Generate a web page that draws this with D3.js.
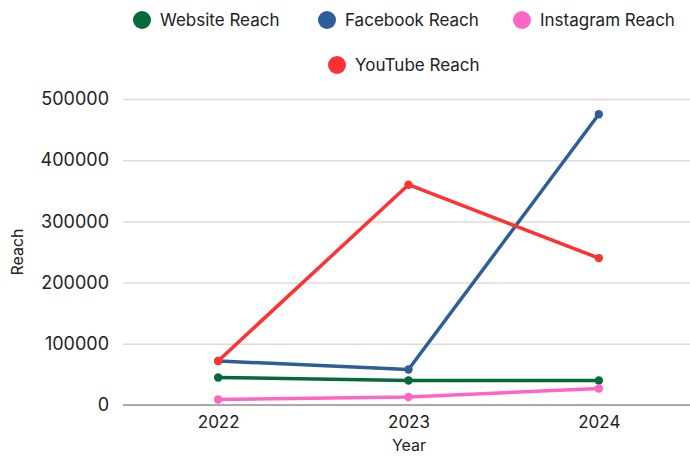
<!DOCTYPE html>
<html><head><meta charset="utf-8">
<script src="https://cdn.jsdelivr.net/npm/d3@7"></script>
<style>body{margin:0;background:#fff}svg{display:block}text{font-family:Inter,"DejaVu Sans",sans-serif;fill:#222}</style>
</head><body><svg width="690" height="456"></svg>
<script>
const years = ["2022","2023","2024"];
const websiteReach = [45000, 40000, 40000];
const facebookReach = [72000, 58000, 475000];
const instagramReach = [9000, 13000, 27000];
const youtubeReach = [72000, 360000, 240000];
const seriesNames = ["Website Reach","Facebook Reach","Instagram Reach","YouTube Reach"];
const seriesColors = ["#046a38","#2e5e99","#ff66c4","#ff3131"];
const yTicks = [0,100000,200000,300000,400000,500000];

const series = [websiteReach, facebookReach, instagramReach, youtubeReach]
  .map((v,i)=>({name:seriesNames[i], color:seriesColors[i], values:v}));

const svg = d3.select("svg");
const x = d3.scalePoint().domain(years).range([123,694]).padding(0.5);
const y = d3.scaleLinear().domain([0,500000]).range([405,99]);

// grid + y axis
const ya = svg.append("g").attr("transform","translate(123,0)")
  .call(d3.axisLeft(y).tickValues(yTicks).tickSize(-567).tickPadding(14).tickFormat(d3.format("d")));
ya.select(".domain").remove();
ya.selectAll(".tick line").attr("stroke","#dcdcdc").attr("stroke-width",1.5);
ya.selectAll(".tick text").attr("font-size",18).attr("fill","#222").style("font-family","Inter,sans-serif");

// x axis
const xa = svg.append("g").attr("transform","translate(0,405)")
  .call(d3.axisBottom(x).tickSize(0).tickPadding(11));
xa.select(".domain").attr("d","M123,0H690").attr("stroke","#aaaaaa").attr("stroke-width",2);
xa.selectAll(".tick text").attr("font-size",17).attr("fill","#222").style("font-family","Inter,sans-serif");

svg.append("text").attr("x",409).attr("y",456-5).attr("text-anchor","middle").attr("font-size",16).text("Year");
svg.append("text").attr("transform","translate(23,252) rotate(-90)").attr("text-anchor","middle").attr("font-size",16).text("Reach");

const line = d3.line().x((d,i)=>x(years[i])).y(d=>y(d));
const g = svg.append("g");
series.forEach(s=>{
  g.append("path").attr("d",line(s.values)).attr("fill","none").attr("stroke",s.color)
    .attr("stroke-width",3.5).attr("stroke-linejoin","round");
  g.selectAll(null).data(s.values).enter().append("circle")
    .attr("cx",(d,i)=>x(years[i])).attr("cy",d=>y(d)).attr("r",4.2).attr("fill",s.color);
});

// legend
const legendPos = [[142,20],[327,20],[522,20],[337,65]];
series.forEach((s,i)=>{
  const [lx,ly] = legendPos[i];
  svg.append("circle").attr("cx",lx).attr("cy",ly).attr("r",9).attr("fill",s.color);
  svg.append("text").attr("x",lx+18).attr("y",ly).attr("dy","0.35em").attr("font-size",17).text(s.name);
});
</script></body></html>
